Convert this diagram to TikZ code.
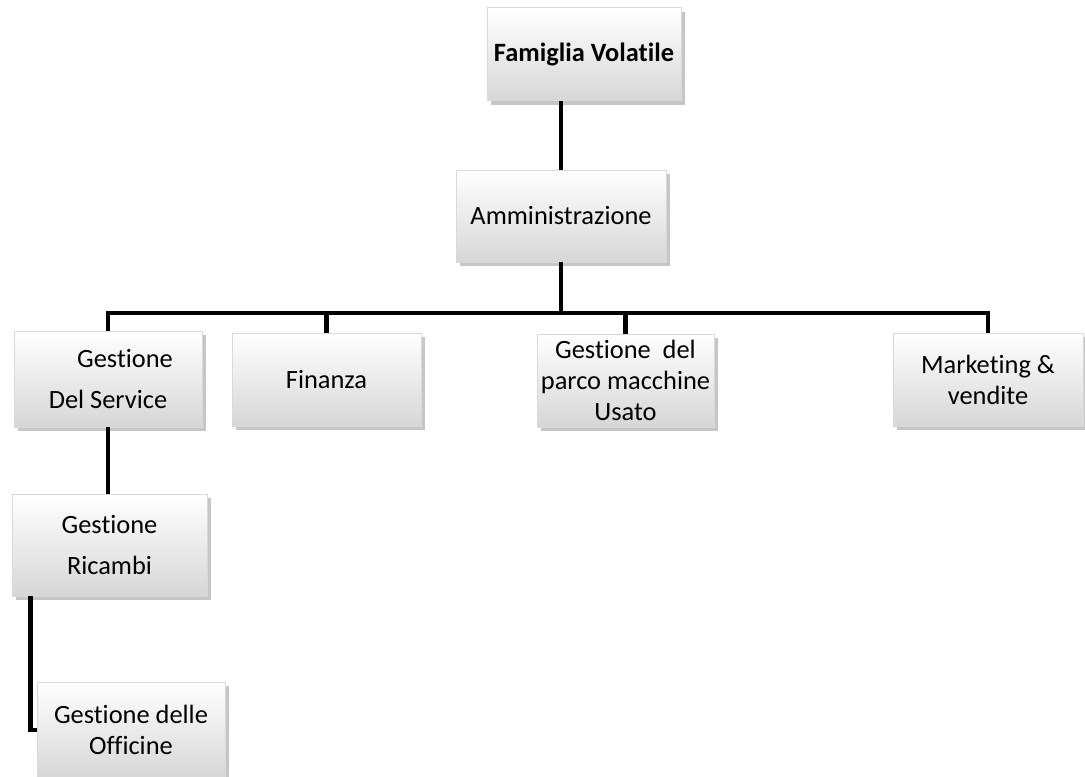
\documentclass[tikz,border=0pt]{standalone}
\usepackage{fontspec}
\setmainfont[Ligatures=NoCommon]{Carlito}
\usetikzlibrary{shadows}
\begin{document}
\begin{tikzpicture}[x=0.5pt,y=-0.5pt,
		box/.style={draw=gray!30,line width=0.4pt,top color=white,bottom color=gray!32,
			drop shadow={shadow xshift=2pt,shadow yshift=-2pt,opacity=0.45},
			align=center,inner sep=0pt,font=\fontsize{13.2}{15.5}\selectfont},
		link/.style={line width=2.3pt}]
		\useasboundingbox (0,0) rectangle (1085,776);
		\node[box,minimum width=97pt,minimum height=46.5pt] (fam) at (584,54) {\textbf{Famiglia Volatile}};
		\node[box,minimum width=105pt,minimum height=46pt] (adm) at (561,216) {Amministrazione};
		\node[box,minimum width=94pt,minimum height=48pt] (svc) at (108,379) {\hspace*{17pt}Gestione\\[5pt]Del Service};
		\node[box,minimum width=94.5pt,minimum height=46.5pt] (fin) at (326.5,379.5) {Finanza};
		\node[box,minimum width=88.5pt,minimum height=46.5pt] (usa) at (625.5,380.5) {Gestione~ del\\parco macchine\\Usato};
		\node[box,minimum width=95pt,minimum height=46.5pt] (mkt) at (988,379.5) {Marketing \&\\vendite};
		\node[box,minimum width=97.5pt,minimum height=51pt] (ric) at (109.5,545) {Gestione\\[5pt]Ricambi};
		\node[box,minimum width=94pt,minimum height=48pt] (off) at (131,730) {Gestione delle\\Officine};
		\coordinate (bus) at (561,313);
		\draw[link] (adm.north)--(adm.north|-fam.south);
		\draw[link] (adm.south)--(bus);
		\draw[link] (svc.north)|-(bus)-|(mkt.north);
		\draw[link] (fin.north)--(fin.north|-bus);
		\draw[link] (usa.north)--(usa.north|-bus);
		\draw[link] (svc.south)--(svc.south|-ric.north);
		\draw[link] (ric.south west)++(19,0)|-(off.west);
	\end{tikzpicture}
\end{document}
